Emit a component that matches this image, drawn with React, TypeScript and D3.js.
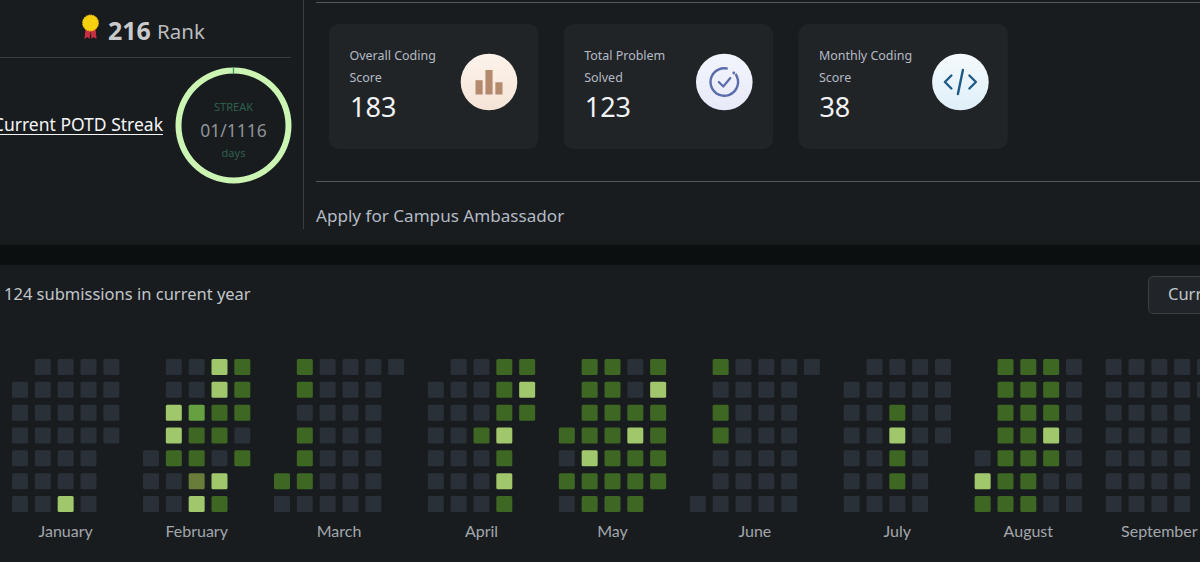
import React from "react";
import * as d3 from "d3";

const W = 1200;
const H = 562;

const monthNames = ["January", "February", "March", "April", "May", "June", "July", "August", "September"];

// one string per weekday row, one char per week column: . none, 0 empty, 1 some, 2 most, 3 mid, 4 olive
const january = [".0000", "00000", "00000", "00000", "0000.", "0000.", "0020."];
const february = [".0021", ".0021", ".2311", ".2110", "01101", "0042.", "0021."];
const march = [".10000", ".1000.", ".0000.", ".1000.", ".1000.", "11000.", "00000."];
const april = [".0011", "00012", "00011", "0012.", "0001.", "0002.", "0001."];
const may = [".1101", ".1102", ".1111", "11121", "02111", "11111", "0111."];
const june = [".10000", ".0000.", ".1000.", ".1000.", ".0000.", ".0000.", "00000."];
const july = [".0000", "00000", "00100", "00200", "0010.", "0010.", "0000."];
const august = [".1110", ".1110", ".1110", ".1120", "01110", "21100", "11100"];
const september = ["00000", "00000", "0000.", "0000.", "0000.", "0000.", "0000."];
const months = [january, february, march, april, may, june, july, august, september];

const cardTitles = [
  ["Overall Coding", "Score"],
  ["Total Problem", "Solved"],
  ["Monthly Coding", "Score"],
];
const cardValues = [183, 123, 38];
const overallBars = [14, 24, 12];

const streakDone = 1;
const streakTotal = 1116;

const FONT = "'Noto Sans', sans-serif";
const LABEL_FONT = "Lato, sans-serif";

const colorOf = d3
  .scaleOrdinal<string, string>()
  .domain(["0", "1", "2", "3", "4"])
  .range(["#2a3038", "#3e6723", "#a1c76c", "#66a040", "#697c39"]);

const STEP = 22.83;
const CELL = 16;
const MONTH_GAP = 16.85;

// weeks run on one axis, the gap between months is added per month
const xWeek = d3.scaleLinear().domain([0, 1]).range([12, 12 + STEP]);
const yDay = d3.scaleLinear().domain([0, 1]).range([359, 359 + STEP]);

function monthOffsets() {
  let week = 0;
  return months.map((m, i) => {
    const start = xWeek(week) + i * MONTH_GAP;
    week += m[0].length;
    return start;
  });
}

function Heatmap() {
  const starts = monthOffsets();
  return (
    <g>
      {months.map((rows, mi) => {
        const x0 = starts[mi];
        const width = rows[0].length * STEP - (STEP - CELL);
        return (
          <g key={mi}>
            {rows.map((row, r) =>
              row.split("").map((c, k) =>
                c === "." ? null : (
                  <rect
                    key={`${r}-${k}`}
                    x={x0 + k * STEP}
                    y={yDay(r)}
                    width={CELL}
                    height={CELL}
                    rx={1.5}
                    fill={colorOf(c)}
                  />
                )
              )
            )}
            <text
              x={x0 + width / 2}
              y={537}
              textAnchor="middle"
              fontFamily={LABEL_FONT}
              fontSize={16}
              fill="#a3a7ab"
            >
              {monthNames[mi]}
            </text>
          </g>
        );
      })}
    </g>
  );
}

function Ring() {
  const angle = d3.scaleLinear().domain([0, streakTotal]).range([0, 2 * Math.PI]);
  const arc = d3.arc().innerRadius(52).outerRadius(58);
  return (
    <g transform="translate(233.5,125.5)">
      <path d={arc({ startAngle: 0, endAngle: 2 * Math.PI } as any) as string} fill="#ccf5b4" />
      <path
        d={arc({ startAngle: -0.012, endAngle: angle(streakDone) + 0.006 } as any) as string}
        fill="#2fa36b"
      />
      <text y={-14.5} textAnchor="middle" fontFamily={FONT} fontSize={11} fill="#2f5f4b">STREAK</text>
      <text y={11} textAnchor="middle" fontFamily={FONT} fontSize={17.5} fill="#8f9397">{`0${streakDone}/${streakTotal}`}</text>
      <text y={31} textAnchor="middle" fontFamily={FONT} fontSize={11} fill="#2f5f4b">days</text>
    </g>
  );
}

function Medal() {
  return (
    <g transform="translate(90.5,23)">
      <path d="M-5,5 L-6,16 L-3,14 L-1,16 L0,8 L1,16 L3,14 L6,16 L5,5 Z" fill="#c92f42" />
      <circle r={8} fill="#f6d20e" stroke="#e8b90c" strokeWidth={1} strokeDasharray="1.5 1" />
    </g>
  );
}

function BarIcon() {
  const x = d3.scaleBand<number>().domain([0, 1, 2]).range([-13.5, 13.5]).paddingInner(0.28);
  const y = d3.scaleLinear().domain([0, 24]).range([12.5, -12]);
  return (
    <g>
      {overallBars.map((v, i) => (
        <rect key={i} x={x(i)} y={y(v)} width={x.bandwidth()} height={y(0) - y(v)} fill="#b48a6e" />
      ))}
    </g>
  );
}

function CheckIcon() {
  const c = "#5a6cab";
  const gap = d3.arc().innerRadius(12.6).outerRadius(15);
  return (
    <g>
      <path d={gap({ startAngle: 0.95, endAngle: 2 * Math.PI + 0.25 } as any) as string} fill={c} />
      <circle cx={9.5} cy={-9} r={1.4} fill={c} />
      <path d="M-5.5,0 L-1,4.5 L6,-4" fill="none" stroke={c} strokeWidth={2.2} strokeLinecap="round" strokeLinejoin="round" />
    </g>
  );
}

function CodeIcon() {
  return (
    <g fill="none" stroke="#1f5a85" strokeWidth={2.4} strokeLinecap="round" strokeLinejoin="round">
      <path d="M-9,-6.5 L-15.5,0 L-9,6.5" />
      <path d="M9,-6.5 L15.5,0 L9,6.5" />
      <path d="M2.5,-12 L-2.5,12" />
    </g>
  );
}

const icons = [<BarIcon />, <CheckIcon />, <CodeIcon />];
const iconFills = ["url(#ic0)", "url(#ic1)", "url(#ic2)"];
const iconStops = [
  ["#fdf3ec", "#f5e3d6"],
  ["#f3f5fd", "#e7eaf8"],
  ["#f4fafd", "#dfeff8"],
];
const iconNudge = [160, 160.6, 162];

function Cards() {
  const x = d3.scaleLinear().domain([0, 1]).range([329, 563.7]);
  return (
    <g>
      {cardTitles.map((lines, i) => {
        const cx = x(i);
        return (
          <g key={i}>
            <rect x={cx} y={24} width={209.5} height={125} rx={10} fill="#202427" />
            {lines.map((t, j) => (
              <text
                key={j}
                transform={`translate(${cx + 20.5},${60 + j * 22.3}) scale(0.945,1)`}
                fontFamily={FONT}
                fontSize={13.2}
                fill="#b4bac3"
              >
                {t}
              </text>
            ))}
            <text x={cx + 21} y={116.5} fontFamily={FONT} fontSize={27} fill="#f2f3f4">{cardValues[i]}</text>
            <g transform={`translate(${cx + iconNudge[i]},82)`}>
              <circle r={28.3} fill={iconFills[i]} />
              {icons[i]}
            </g>
          </g>
        );
      })}
    </g>
  );
}

export default function App() {
  return (
    <svg
      width={W}
      height={H}
      viewBox={`0 0 ${W} ${H}`}
      style={{ position: "fixed", left: 0, top: 0, display: "block" }}
    >
      <defs>
        {iconStops.map((s, i) => (
          <linearGradient key={i} id={`ic${i}`} x1="0" y1="0" x2="0" y2="1">
            <stop offset="0" stopColor={s[0]} />
            <stop offset="1" stopColor={s[1]} />
          </linearGradient>
        ))}
      </defs>
      <rect width={W} height={H} fill="#181c1f" />
      <rect y={245} width={W} height={20} fill="#0c0f10" />

      {/* rules */}
      <line x1={0} x2={291} y1={57.5} y2={57.5} stroke="#3a3d40" strokeWidth={1.2} />
      <line x1={303.5} x2={303.5} y1={0} y2={229} stroke="#3a3d40" />
      <line x1={316} x2={W} y1={2.5} y2={2.5} stroke="#55585b" strokeWidth={1.2} />
      <line x1={316} x2={W} y1={181.5} y2={181.5} stroke="#55585b" strokeWidth={1.2} />

      <Medal />
      <text x={108} y={40} fontFamily={FONT} fontSize={25} fontWeight={700} fill="#c9cacc">216</text>
      <text x={157} y={39} fontFamily={FONT} fontSize={20.5} fill="#b9bbbe">Rank</text>

      <text x={163} y={131} textAnchor="end" fontFamily={FONT} fontSize={17.5} fill="#f4f5f6">Current POTD Streak</text>
      <line x1={0} x2={163} y1={134.5} y2={134.5} stroke="#f4f5f6" strokeWidth={1.2} />
      <Ring />

      <Cards />
      <text x={316} y={222} fontFamily={FONT} fontSize={17.1} fill="#b4bac3">Apply for Campus Ambassador</text>

      <text x={4} y={300} fontFamily={FONT} fontSize={16.5} fill="#c2c5c9">124 submissions in current year</text>
      <rect x={1148.5} y={276.5} width={80} height={37} rx={5} fill="#212529" stroke="#3b3f44" />
      <text x={1168} y={300} fontFamily={FONT} fontSize={16.5} fill="#c2c5c9">Current</text>

      <Heatmap />
    </svg>
  );
}
